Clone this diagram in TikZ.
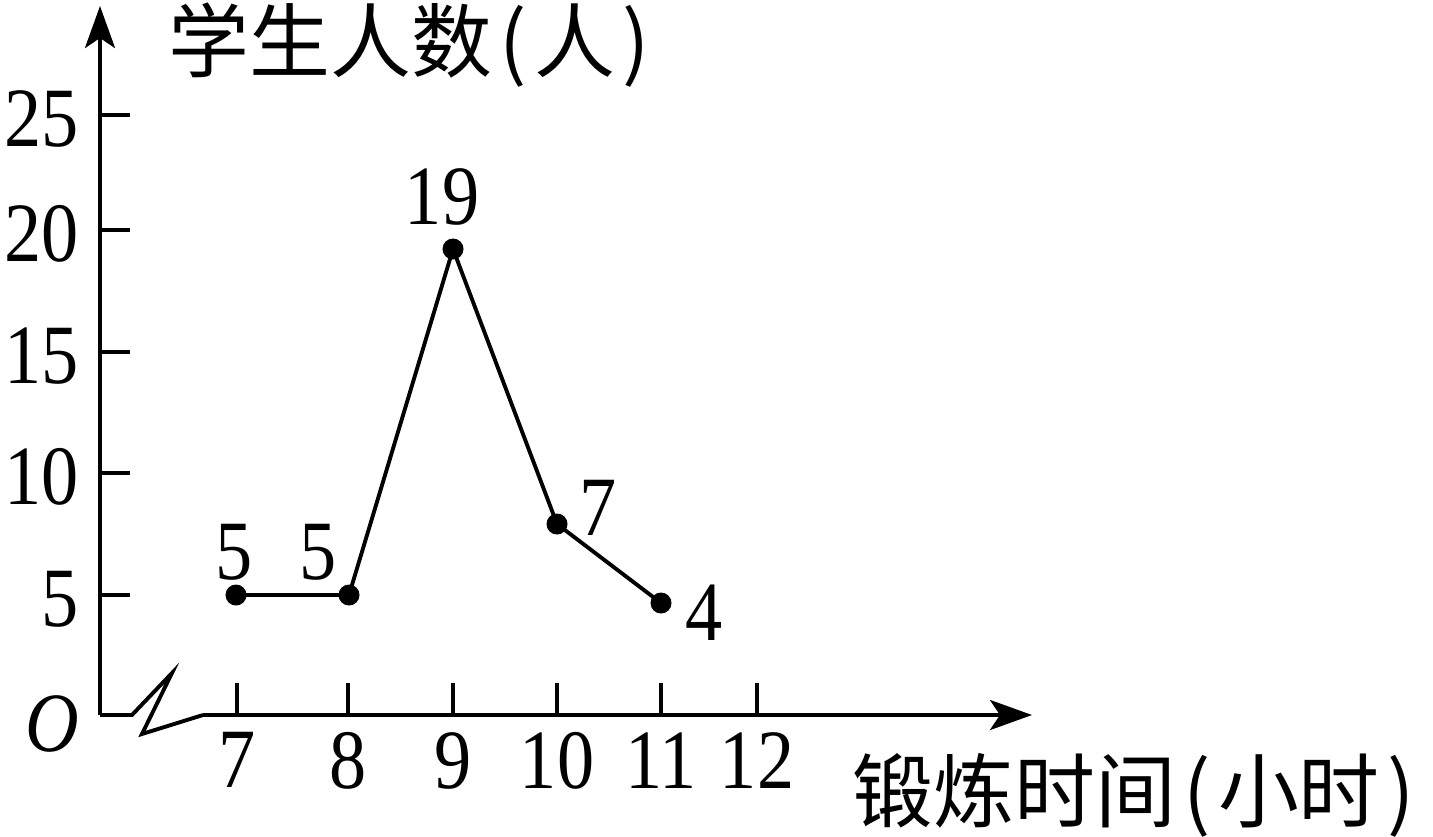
\documentclass[tikz,border=0pt]{standalone}
\usepackage{fontspec}
\setmainfont[FakeStretch=0.88]{Liberation Serif}
\newfontfamily\cjk{Noto Sans CJK SC}
\usetikzlibrary{arrows.meta,positioning}
\newcommand\pp[1]{\hspace{0.09em}#1\hspace{0.09em}}
\tikzset{
  axis/.style={-{Stealth[length=0.42cm,width=0.3cm,inset=0.1cm]},line width=1.1pt},
  tick/.style={line width=1.1pt},
  dot/.style={circle,fill,inner sep=0pt,minimum size=0.21cm},
  every node/.style={font=\fontsize{24}{27}\selectfont,inner sep=0pt},
  cjklabel/.style={font=\cjk\fontsize{23}{26}\selectfont,anchor=west}
}

\begin{document}
\begin{tikzpicture}[x=0.01cm,y=-0.01cm]
  \useasboundingbox (0,0) rectangle (1433,836);
  % axes with the break
  \coordinate (O) at (100,715);
  \coordinate (ytop) at (100,6);
  \coordinate (xend) at (1032,715);
  \coordinate (b1) at (132,715);
  \coordinate (b2) at (172,673);
  \coordinate (b3) at (142,734);
  \coordinate (b4) at (203,715);
  \draw[axis] (O) -- (ytop);
  \draw[tick] (O) -- (b1) -- (b2) -- (b3) -- (b4);
  \draw[axis] (b4) -- (xend);
  \node (olab) at (52,724) {\textit{O}};
  % ticks
  \foreach \Y/\L in {115/25,230/20,352/15,473/10,595/5}{
    \draw[tick] (100,\Y) -- (130,\Y);
    \node[anchor=east] (y\L) at (79,\Y+4) {\L};
  }
  \foreach \X/\L in {237/7,348/8,453/9,557/10,661/11,757/12}{
    \draw[tick] (\X,683) -- (\X,715);
    \node[anchor=north] (x\L) at (\X,732) {\L};
  }
  \node[cjklabel] (ylab) at (168,45) {学生人数\pp{(}人\pp{)}};
  \node[cjklabel] (xlab) at (852,795) {锻炼时间\pp{(}小时\pp{)}};
  % data
  \node[dot] (p7) at (236,595) {};
  \node[dot] (p8) at (349,595) {};
  \node[dot] (p9) at (453,249) {};
  \node[dot] (p10) at (557,524) {};
  \node[dot] (p11) at (661,603) {};
  \draw[tick] (p7.center) -- (p8.center) -- (p9.center) -- (p10.center) -- (p11.center);
  \node (n7) at (234,552) {5};
  \node (n8) at (318,552) {5};
  \node (n9) at (442,197) {19};
  \node (n10) at (598,508) {7};
  \node (n11) at (704,613) {4};
\end{tikzpicture}
\end{document}
